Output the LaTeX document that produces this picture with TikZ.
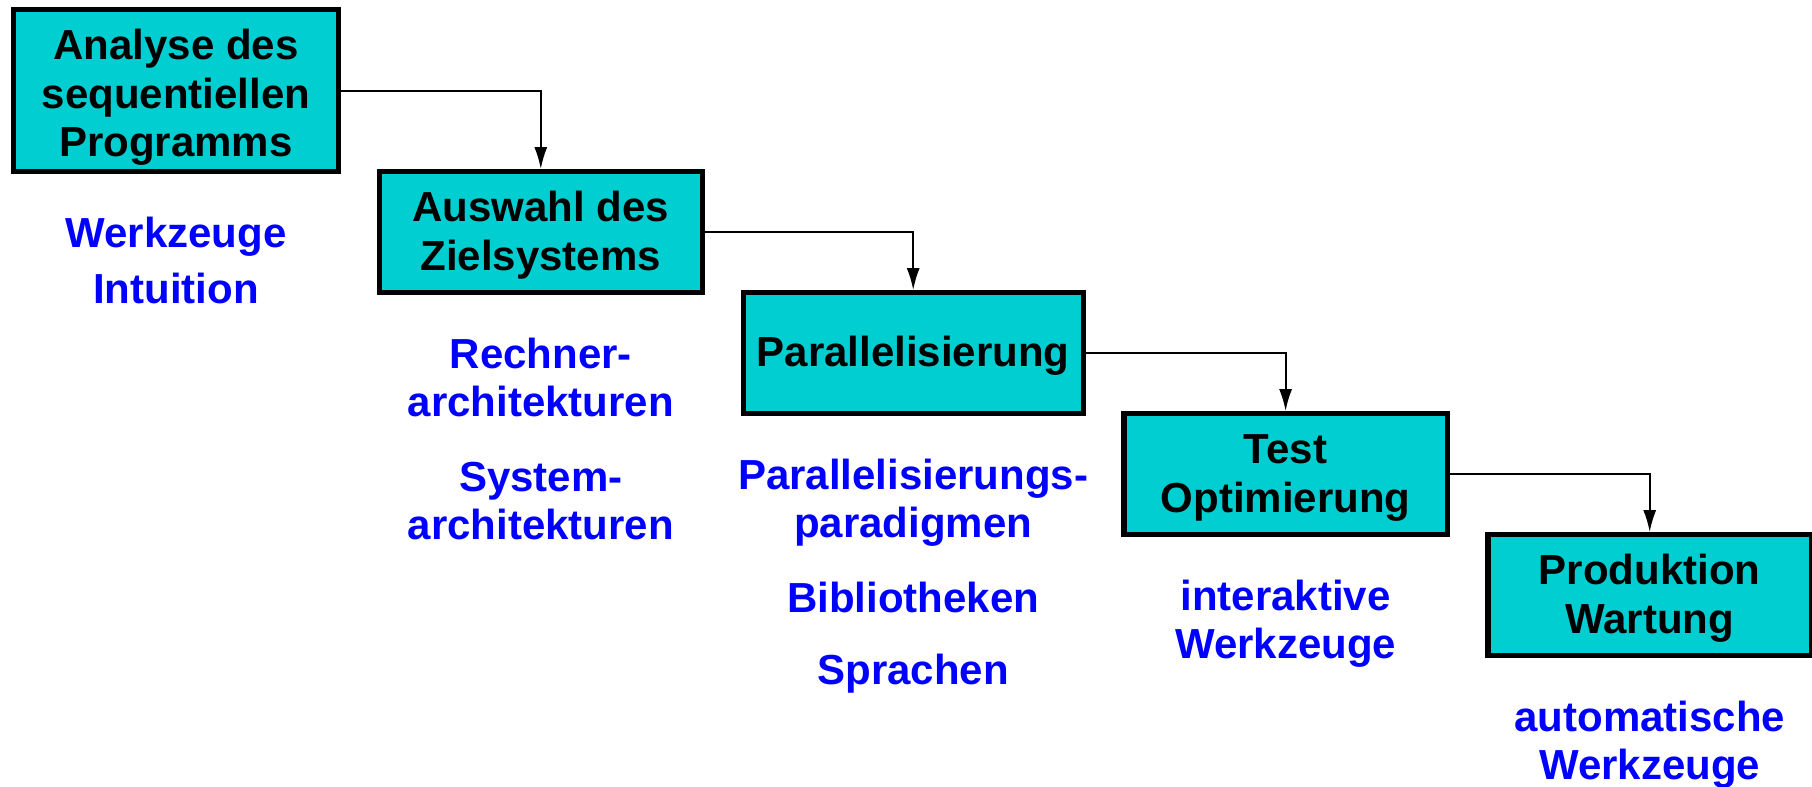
\documentclass[tikz,border=0pt]{standalone}
\usepackage{fontspec}
\setmainfont{Liberation Sans}
\usepackage{xcolor}
\usetikzlibrary{positioning, arrows.meta}
\definecolor{phasefill}{RGB}{0,206,209}
\definecolor{toolblue}{RGB}{0,0,255}

\begin{document}
\begin{tikzpicture}[
	phase/.style={draw, line width=2.6pt, fill=phasefill, align=center, minimum width=161.7pt, minimum height=60.5pt, inner xsep=6.8pt, inner ysep=6.5pt, font=\bfseries\fontsize{21}{24.25}\selectfont},
	tools/.style={text=toolblue, align=center, inner sep=0pt, font=\bfseries\fontsize{21}{24.25}\selectfont},
	flow/.style={-{Latex[length=11pt,width=6.5pt]}, line width=1pt}
]
	\useasboundingbox (0,0) rectangle (906pt,-393.5pt);

	% nodes - phases %
	\node[phase, anchor=north west, minimum width=162.4pt, inner ysep=3pt] (analyse) at (5.5pt,-3.6pt) {\rule{0pt}{22pt}Analyse des\\sequentiellen\\Programms};
	\node[phase, below right=-2.6pt and 17.75pt of analyse] (auswahl) {\rule{0pt}{18pt}Auswahl des\\Zielsystems};
	\node[phase, below right=-2.6pt and 17.75pt of auswahl] (parallel) {\rule{0pt}{18pt}Parallelisierung};
	\node[phase, below right=-2.6pt and 17.75pt of parallel] (test) {\rule{0pt}{18pt}Test\\Optimierung};
	\node[phase, below right=-2.6pt and 17.75pt of test] (produktion) {\rule{0pt}{18pt}Produktion\\Wartung};

	% nodes - tools below each phase %
	\node[tools, below=21pt of analyse] (analyseTools) {Werkzeuge\\[4pt]Intuition};
	\node[tools, below=21pt of auswahl] (auswahlTools) {Rechner-\\architekturen\\[13pt]System-\\architekturen};
	\node[tools, below=21pt of parallel] (parallelTools) {Parallelisierungs-\\paradigmen\\[13pt]Bibliotheken\\[12pt]Sprachen};
	\node[tools, below=21pt of test] (testTools) {interaktive\\Werkzeuge};
	\node[tools, below=21pt of produktion] (produktionTools) {automatische\\Werkzeuge};

	% edges %
	\draw[flow] (analyse.east) -| (auswahl.north);
	\draw[flow] (auswahl.east) -| (parallel.north);
	\draw[flow] (parallel.east) -| (test.north);
	\draw[flow] (test.east) -| (produktion.north);

\end{tikzpicture}
\end{document}
